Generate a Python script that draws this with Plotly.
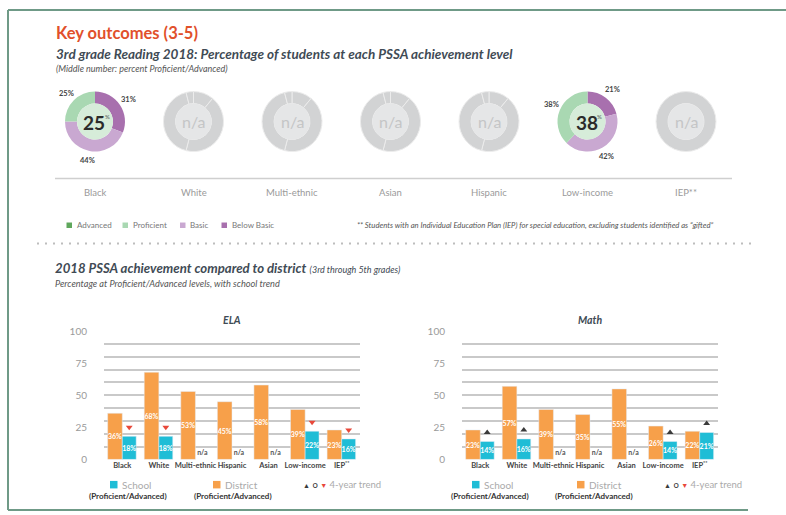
import math
import plotly.graph_objects as go

W, H = 786, 515
SQ = 0.979               # vertical correction seen in the rendered page

# ---- donut data (3rd grade reading) ----
groups = ["Black", "White", "Multi-ethnic", "Asian", "Hispanic", "Low-income", "IEP**"]
levels = ["Below Basic", "Basic", "Proficient", "Advanced"]
level_colors = ["#a870ae", "#c9a8d1", "#a9d8b2", "#5fa75c"]
# percent per level, None = n/a
below_basic = [31, None, None, None, None, 21, None]
basic = [44, None, None, None, None, 42, None]
proficient = [25, None, None, None, None, 38, None]
advanced = [0, None, None, None, None, 0, None]
# faint segments of the grey n/a rings
na_segments = [11, 43, 42, 4]

# ---- bar data (proficient/advanced %) ----
bar_cats = ["Black", "White", "Multi-ethnic", "Hispanic", "Asian", "Low-income", "IEP**"]
ela_district = [36, 68, 53, 45, 58, 39, 23]
ela_school = [18, 18, None, None, None, 22, 16]
ela_trend = ["down", "down", None, None, None, "down", "down"]
math_district = [23, 57, 39, 35, 55, 26, 22]
math_school = [14, 16, None, None, None, 14, 21]
math_trend = ["up", "up", None, None, None, "up", "up"]

ORANGE = "#f7a04a"
CYAN = "#1fbdd6"
RED = "#e8483a"
DARK = "#3f4b55"
FRAME = "#6f9a87"
FONT = "Lato"


def px(x):
    return x / W


def py(y):
    y = H / 2 + (y - H / 2) / SQ
    return min(max(1 - y / H, 0), 1)


fig = go.Figure()
shapes = []
annotations = []


def txt(x, y, text, size, color, xanchor="center"):
    # annotation placed in page pixels
    annotations.append(dict(x=px(x), y=py(y), xref="paper", yref="paper", text=text,
                            xanchor=xanchor, yanchor="middle", showarrow=False,
                            font=dict(family=FONT, size=size, color=color)))


# ---- donuts ----
cx0, step, cy, R = 95, 98.5, 121, 30
hole = 0.6
for i, g in enumerate(groups):
    cx = cx0 + step * i
    dom = dict(x=[px(cx - R), px(cx + R)], y=[py(cy + R), py(cy - R)])
    circ = dict(type="circle", xref="paper", yref="paper",
                x0=px(cx - R * hole), x1=px(cx + R * hole),
                y0=py(cy + R * hole), y1=py(cy - R * hole),
                line=dict(width=0), layer="above")
    if below_basic[i] is not None:
        vals = [below_basic[i], basic[i], proficient[i], advanced[i]]
        fig.add_trace(go.Pie(values=vals, labels=levels, domain=dom, hole=hole,
                             sort=False, direction="clockwise", rotation=0,
                             marker=dict(colors=level_colors, line=dict(width=0)),
                             textinfo="none", hoverinfo="label+percent", showlegend=False))
        shapes.append(dict(circ, fillcolor="#d6ecd9"))
        center = proficient[i] + advanced[i]
        txt(cx - 1, cy + 1, f"<b>{center}</b>", 19, "#2b2b2b")
        txt(cx + 12, cy - 5, "%", 6, "#555")
        # outside percent labels at slice mid-angles
        cum = 0
        for v in vals:
            if v > 0:
                ang = math.radians((cum + v / 2) * 3.6)
                txt(cx + 40 * math.sin(ang), cy - 40 * math.cos(ang), f"<b>{v}%</b>", 7.5, "#444")
            cum += v
    else:
        vals = na_segments if g != "IEP**" else [100]
        fig.add_trace(go.Pie(values=vals, domain=dom, hole=hole, sort=False,
                             direction="clockwise", rotation=0,
                             marker=dict(colors=["#d2d3d4"] * len(vals),
                                         line=dict(width=1, color="#ececec")),
                             textinfo="none", hoverinfo="skip", showlegend=False))
        shapes.append(dict(circ, fillcolor="#e5e6e7"))
        txt(cx, cy, "n/a", 16, "#c4c5c6")
    txt(cx, 192, g, 9.5, "#9a9a9a")

shapes.append(dict(type="line", xref="paper", yref="paper", x0=px(55), x1=px(732),
                   y0=py(178), y1=py(178), line=dict(color="#cfcfcf", width=1.5)))

# donut legend
leg_x = [66.5, 122.5, 180, 221.5]
for lx, name, col in zip(leg_x, ["Advanced", "Proficient", "Basic", "Below Basic"],
                         [level_colors[3], level_colors[2], level_colors[1], level_colors[0]]):
    shapes.append(dict(type="rect", xref="paper", yref="paper", x0=px(lx), x1=px(lx + 5.5),
                       y0=py(227.5), y1=py(222), fillcolor=col, line=dict(width=0)))
    txt(lx + 8, 224.5, name, 8, "#777", "left")
txt(355, 224.5, "<i>** Students with an Individual Education Plan (IEP) for special education, "
                "excluding students identified as \u201cgifted\u201d</i>", 7.7, "#555", "left")

# ---- bars ----
x_idx = list(range(len(bar_cats)))
tick_text = ["<b>" + c.replace("**", "<sup>**</sup>") + "</b>" for c in bar_cats]


def add_bars(district, school, trend, xa, ya, trend_sym, trend_col):
    fig.add_trace(go.Bar(x=x_idx, y=district, width=0.4, offset=-0.4, marker_color=ORANGE,
                         text=[f"{v}%" for v in district], textposition="inside",
                         insidetextanchor="middle", constraintext="none", textangle=0,
                         textfont=dict(family=FONT, size=7, color="white", weight="bold"),
                         xaxis=xa, yaxis=ya, showlegend=False, name="District"))
    fig.add_trace(go.Bar(x=x_idx, y=school, width=0.38, offset=0, marker_color=CYAN,
                         text=[f"{v}%" if v is not None else "" for v in school],
                         textposition="inside", insidetextanchor="middle", constraintext="none",
                         textangle=0,
                         textfont=dict(family=FONT, size=7, color="white", weight="bold"),
                         xaxis=xa, yaxis=ya, showlegend=False, name="School"))
    na_x = [i + 0.19 for i, v in enumerate(school) if v is None]
    fig.add_trace(go.Scatter(x=na_x, y=[5] * len(na_x), mode="text", text=["n/a"] * len(na_x),
                             textfont=dict(family=FONT, size=7, color="#555", weight="bold"),
                             xaxis=xa, yaxis=ya, showlegend=False, hoverinfo="skip"))
    tx = [i + 0.19 for i, t in enumerate(trend) if t]
    ty = [school[i] + 7 for i, t in enumerate(trend) if t]
    fig.add_trace(go.Scatter(x=tx, y=ty, mode="markers",
                             marker=dict(symbol=trend_sym, size=6, color=trend_col),
                             xaxis=xa, yaxis=ya, showlegend=False, hoverinfo="skip"))


add_bars(ela_district, ela_school, ela_trend, "x", "y", "triangle-down", RED)
add_bars(math_district, math_school, math_trend, "x2", "y2", "triangle-up", "#3a3a3a")

ydom = [py(459), py(330.7)]
xaxis_common = dict(range=[-0.5, 6.5], tickvals=x_idx, ticktext=tick_text, showgrid=False,
                    zeroline=False, showline=False, ticks="", fixedrange=True, tickangle=0,
                    tickfont=dict(family=FONT, size=7.5, color="#444"))
yaxis_common = dict(range=[0, 100], tickvals=[0, 25, 50, 75, 100], showgrid=False,
                    zeroline=False, showline=False, ticks="", ticklabelstandoff=16,
                    tickfont=dict(family=FONT, size=10, color="#9a9a9a"),
                    minor=dict(tickmode="linear", tick0=0, dtick=10, showgrid=True,
                               gridcolor="#c9c9c9", gridwidth=1.5, ticks=""))

fig.update_layout(
    xaxis=dict(domain=[px(104), px(360)], anchor="y", **xaxis_common),
    yaxis=dict(domain=ydom, anchor="x", **yaxis_common),
    xaxis2=dict(domain=[px(462), px(718)], anchor="y2", **xaxis_common),
    yaxis2=dict(domain=ydom, anchor="x2", **yaxis_common),
    barmode="overlay",
)

txt(232, 320, "<b><i>ELA</i></b>", 10.5, DARK)
txt(590, 320, "<b><i>Math</i></b>", 10.5, DARK)

# bar legends
for sq_s, sub_s, sq_d, sub_d, tri in [(110, 128, 213, 233, 301), (472, 490, 577, 594, 662)]:
    for sq, sub, col, name in [(sq_s, sub_s, CYAN, "School"), (sq_d, sub_d, ORANGE, "District")]:
        shapes.append(dict(type="rect", xref="paper", yref="paper", x0=px(sq), x1=px(sq + 7.5),
                           y0=py(488), y1=py(480.5), fillcolor=col, line=dict(width=0)))
        txt(sq + 10, 484.5, name, 10, "#aaaaaa", "left")
        txt(sub, 495.5, "<b>(Proficient/Advanced)</b>", 8, "#333")
    txt(tri, 484.5, "<span style='color:#3a3a3a;font-size:7px'>\u25b2</span> "
                    "<span style='color:#3a3a3a'>o</span> "
                    f"<span style='color:{RED};font-size:7px'>\u25bc</span> 4-year trend",
        9.5, "#aaaaaa", "left")

# ---- headings ----
txt(54, 32, "<b>Key outcomes (3-5)</b>", 16.5, "#e1502b", "left")
txt(54, 53, "<b><i>3rd grade Reading 2018: Percentage of students at each PSSA achievement level</i></b>",
    13.5, DARK, "left")
txt(54, 68, "<i>(Middle number: percent Proficient/Advanced)</i>", 9, "#555", "left")
txt(53, 268, "<b><i>2018 PSSA achievement compared to district</i></b> "
             "<span style='font-size:9px'><i>(3rd through 5th grades)</i></span>", 13.2, DARK, "left")
txt(53, 283, "<i>Percentage at Proficient/Advanced levels, with school trend</i>", 9.2, "#555", "left")

# frame + dotted divider
shapes += [
    dict(type="line", xref="paper", yref="paper", x0=px(8), x1=1, y0=py(9.5), y1=py(9.5),
         line=dict(color=FRAME, width=2)),
    dict(type="line", xref="paper", yref="paper", x0=px(8), x1=px(8), y0=py(9.5), y1=py(512),
         line=dict(color=FRAME, width=2)),
    dict(type="line", xref="paper", yref="paper", x0=px(8), x1=px(748), y0=py(512), y1=py(512),
         line=dict(color=FRAME, width=2)),
    dict(type="line", xref="paper", yref="paper", x0=px(37), x1=px(752), y0=py(243), y1=py(243),
         line=dict(color="#bdbdbd", width=2, dash="2px,6px")),
]

fig.update_layout(
    width=W, height=H, margin=dict(l=0, r=0, t=0, b=0),
    paper_bgcolor="white", plot_bgcolor="rgba(0,0,0,0)",
    shapes=shapes, annotations=annotations,
    font=dict(family=FONT),
)

fig.write_html("out.html", config={"displayModeBar": False},
               post_script="document.body.style.margin='0';document.body.style.overflow='hidden';")
